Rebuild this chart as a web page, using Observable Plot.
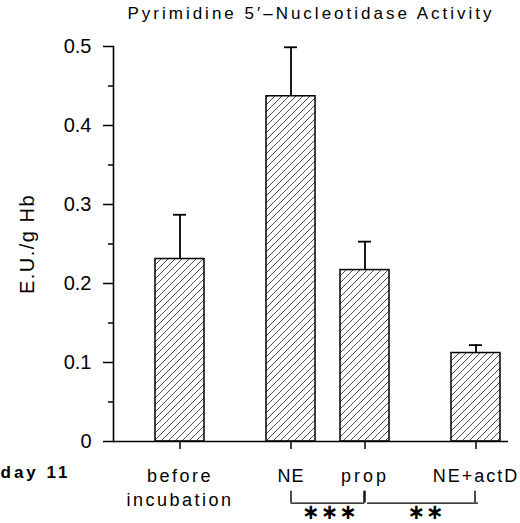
<!DOCTYPE html>
<html>
<head>
<meta charset="utf-8">
<script src="https://cdn.jsdelivr.net/npm/d3@7"></script>
<script src="https://cdn.jsdelivr.net/npm/@observablehq/plot@0.6"></script>
<style>
  html, body { margin: 0; padding: 0; background: #fff; }
</style>
</head>
<body>
<div id="chart"></div>
<script>
// ---- data ----
const categories = ["before incubation", "NE", "prop", "NE+actD"];
const tickLabels = ["before\nincubation", "NE", "prop", "NE+actD"];
const values = [0.231, 0.437, 0.217, 0.112];
const errors = [0.056, 0.062, 0.036, 0.010];
// spacing slots of the band scale (blank slots separate the groups)
const slots = ["before incubation", "_1", "_2", "NE", "_4", "prop", "_6", "_7", "NE+actD"];
const yDomain = [0, 0.5];
const yTicks = [0, 0.1, 0.2, 0.3, 0.4, 0.5];
const yMinorTicks = [0.05, 0.15, 0.25, 0.35, 0.45];
const titleText = "Pyrimidine 5\u2032\u2013Nucleotidase Activity";
const yLabel = "E.U./g Hb";
const rowLabel = "day 11";
const bracketFrom = ["NE", "prop"];
const bracketTo = ["prop", "NE+actD"];
const bracketStars = ["\u2217\u2217\u2217", "\u2217\u2217"];
const bracketTop = -0.063, bracketBottom = -0.078, starLevel = -0.098;

const data = categories.map((c, i) => ({cat: c, value: values[i], err: errors[i]}));
const brackets = bracketFrom.map((f, i) => ({from: f, to: bracketTo[i], stars: bracketStars[i]}));

const font = "'Liberation Sans', Arial, Helvetica, sans-serif";

const svg = Plot.plot({
  width: 520,
  height: 523,
  marginLeft: 113,
  marginRight: 12,
  marginTop: 46,
  marginBottom: 82,
  style: {fontFamily: font, fontSize: "18px", background: "white", color: "black", overflow: "visible"},
  x: {type: "band", domain: slots, range: [160.5, 493.5], padding: 0},
  y: {domain: yDomain},
  marks: [
    // bars
    Plot.barY(data, {x: "cat", y: "value", fill: "url(#hatch)", stroke: "black", strokeWidth: 1.5, insetLeft: -6, insetRight: -6}),
    // error bars
    Plot.ruleX(data, {x: "cat", y1: "value", y2: d => d.value + d.err, stroke: "black", strokeWidth: 1.8}),
    Plot.tickY(data, {x: "cat", y: d => d.value + d.err, stroke: "black", strokeWidth: 1.8, insetLeft: 12, insetRight: 12}),
    // axes lines
    Plot.ruleY([0], {stroke: "black", strokeWidth: 1.6}),
    Plot.frame({anchor: "left", stroke: "black", strokeWidth: 1.6}),
    // y axis
    Plot.axisY({ticks: yTicks, tickSize: 10, tickPadding: 12, tickFormat: d => d === 0 ? "0" : d.toFixed(1), fontSize: 20, label: null, strokeWidth: 1.5}),
    Plot.axisY({ticks: yMinorTicks, tickSize: 5, tickFormat: () => "", label: null, strokeWidth: 1.5}),
    // x axis ticks
    Plot.axisX({ticks: categories, tickSize: 8, tickFormat: () => "", label: null, strokeWidth: 1.5}),
    // x tick labels
    Plot.text(categories, {x: d => d, text: (d, i) => tickLabels[i], frameAnchor: "bottom", lineAnchor: "top", dy: 24, lineHeight: 1.3, fontSize: 18}),
    // row label
    Plot.text([rowLabel], {frameAnchor: "bottom-left", textAnchor: "start", lineAnchor: "top", dx: -113, dy: 24, fontSize: 17, fontWeight: "bold"}),
    // y label, centred on the y domain
    Plot.text([yLabel], {y: () => d3.mean(yDomain), frameAnchor: "left", textAnchor: "middle", rotate: -90, dx: -86, fontSize: 20}),
    // title
    Plot.text([titleText], {frameAnchor: "top", lineAnchor: "bottom", dy: -28, fontSize: 17}),
    // significance brackets
    Plot.ruleX(brackets, {x: "from", y1: bracketTop, y2: bracketBottom, stroke: "black", strokeWidth: 1.4}),
    Plot.ruleX(brackets, {x: "to", y1: bracketTop, y2: bracketBottom, stroke: "black", strokeWidth: 1.4, dx: -1}),
    Plot.link(brackets.slice(0, 1), {x1: "from", x2: "to", y1: bracketBottom, y2: bracketBottom, stroke: "black", strokeWidth: 1.4, dx: -0.5}),
    Plot.link(brackets.slice(1), {x1: "from", x2: "to", y1: bracketBottom, y2: bracketBottom, stroke: "black", strokeWidth: 1.4, dx: 2}),
    Plot.text(brackets.slice(0, 1), {x: () => "_4", y: starLevel, text: "stars", fontSize: 21, fontWeight: "bold", fontFamily: "DejaVu Sans", lineAnchor: "bottom", dx: 2}),
    Plot.text(brackets.slice(1), {x: () => "_7", y: starLevel, text: "stars", fontSize: 21, fontWeight: "bold", fontFamily: "DejaVu Sans", lineAnchor: "bottom", dx: -13})
  ]
});

// hatch pattern
d3.select(svg).insert("defs", ":first-child").html(
  `<pattern id="hatch" patternUnits="userSpaceOnUse" width="7" height="7">
     <rect width="7" height="7" fill="white"/>
     <path d="M-1,1 l2,-2 M0,7 l7,-7 M6,8 l2,-2" stroke="#333" stroke-width="0.9"/>
   </pattern>`
);
// letter spacing of the typewriter-like labels
const spacing = new Map([
  [titleText, "3px"], [rowLabel, "3px"], [yLabel, "1.5px"],
  ["beforeincubation", "2.5px"], ["NE", "1px"], ["prop", "3px"], ["NE+actD", "2px"],
  [bracketStars[0], "1px"], [bracketStars[1], "1px"]
]);
d3.select(svg).selectAll("text").each(function() {
  const s = spacing.get(this.textContent);
  if (s) this.style.letterSpacing = s;
});

document.getElementById("chart").appendChild(svg);
</script>
</body>
</html>
